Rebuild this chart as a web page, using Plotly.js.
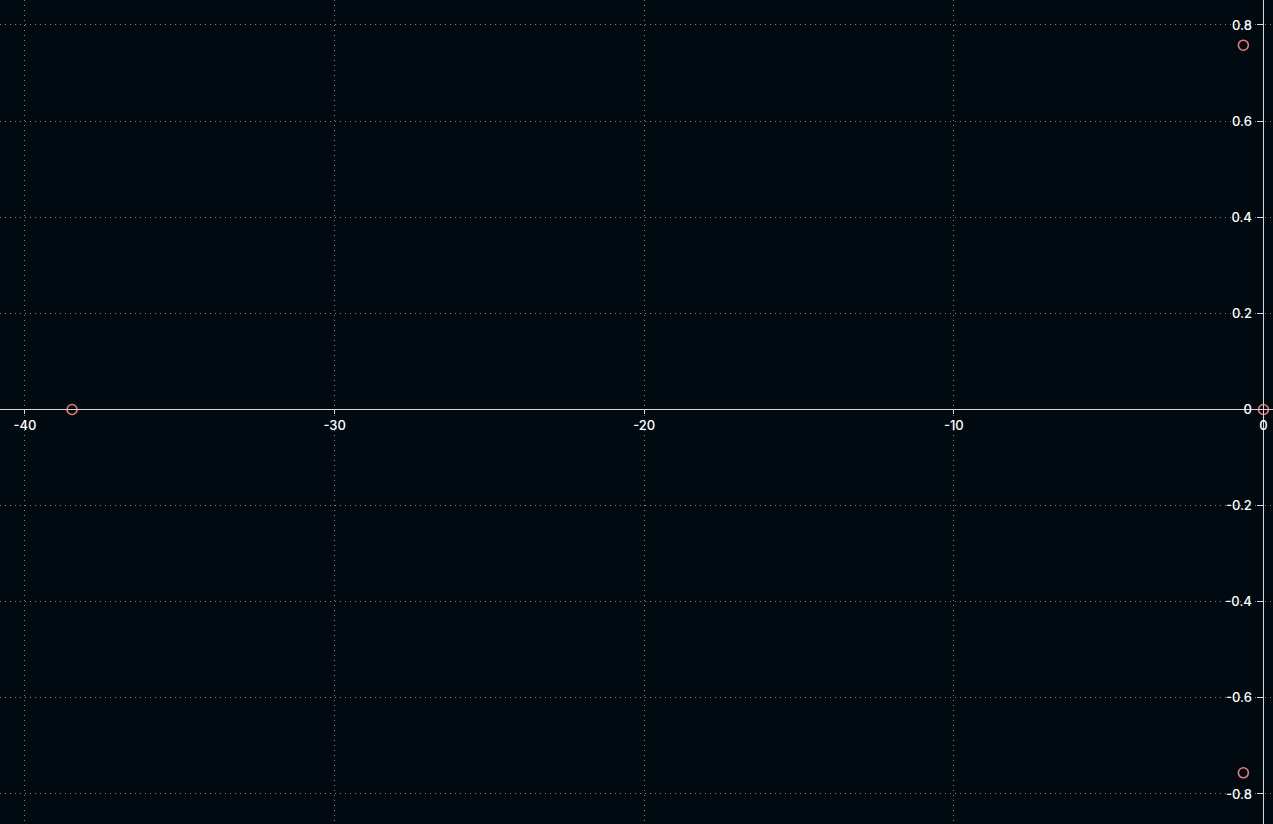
<!DOCTYPE html>
<html>
<head>
<meta charset="utf-8">
<script src="https://cdn.plot.ly/plotly-3.0.1.min.js"></script>
<style>html,body{margin:0;padding:0;background:#020a11;}</style>
</head>
<body>
<div id="chart" style="width:1273px;height:824px;"></div>
<script>
const realParts = [-38.48, -0.65, -0.65, 0.0];
const imagParts = [0.0, 0.758, -0.756, 0.0];
const xRange = [-40.807, 0.307];
const yRange = [-0.8625, 0.852];
const xTicks = [-40, -30, -20, -10, 0];
const yTicks = [-0.8, -0.6, -0.4, -0.2, 0, 0.2, 0.4, 0.6, 0.8];

const xPos = (0 - yRange[0]) / (yRange[1] - yRange[0]);
const yPos = (0 - xRange[0]) / (xRange[1] - xRange[0]);

const trace = {
  x: realParts, y: imagParts, type: 'scatter', mode: 'markers',
  marker: {symbol: 'circle-open', size: 10, color: '#e8787a', line: {width: 1.6, color: '#e8787a'}},
  hoverinfo: 'x+y', showlegend: false
};
const fontSpec = {family: 'Inter, "Open Sans", sans-serif', size: 13, color: '#ffffff', weight: 500};
const layout = {
  width: 1273, height: 824,
  margin: {l: 0, r: 0, t: 0, b: 0, pad: 0},
  paper_bgcolor: '#020a11', plot_bgcolor: '#020a11',
  font: fontSpec, showlegend: false,
  xaxis: {
    range: xRange, anchor: 'free', position: xPos,
    tickvals: xTicks, ticktext: xTicks.map(v => (v < 0 ? '-' : '') + Math.abs(v)),
    showgrid: true, gridcolor: '#7c8186', griddash: '1px,4px', gridwidth: 1,
    zeroline: false, showline: true, linecolor: '#d8d8d8', linewidth: 1,
    ticks: 'outside', ticklen: 4, tickcolor: '#d8d8d8', tickfont: fontSpec
  },
  yaxis: {
    range: yRange, anchor: 'free', position: yPos, side: 'left',
    tickvals: yTicks, ticktext: yTicks.map(v => (v < 0 ? '-' : '') + Math.abs(v)),
    showgrid: true, gridcolor: '#7c8186', griddash: '1px,4px', gridwidth: 1,
    zeroline: false, showline: true, linecolor: '#d8d8d8', linewidth: 1,
    ticks: 'outside', ticklen: 6, tickcolor: '#d8d8d8', tickfont: fontSpec,
    ticklabelstandoff: 3
  }
};
Plotly.newPlot('chart', [trace], layout, {displayModeBar: false});
</script>
</body>
</html>
